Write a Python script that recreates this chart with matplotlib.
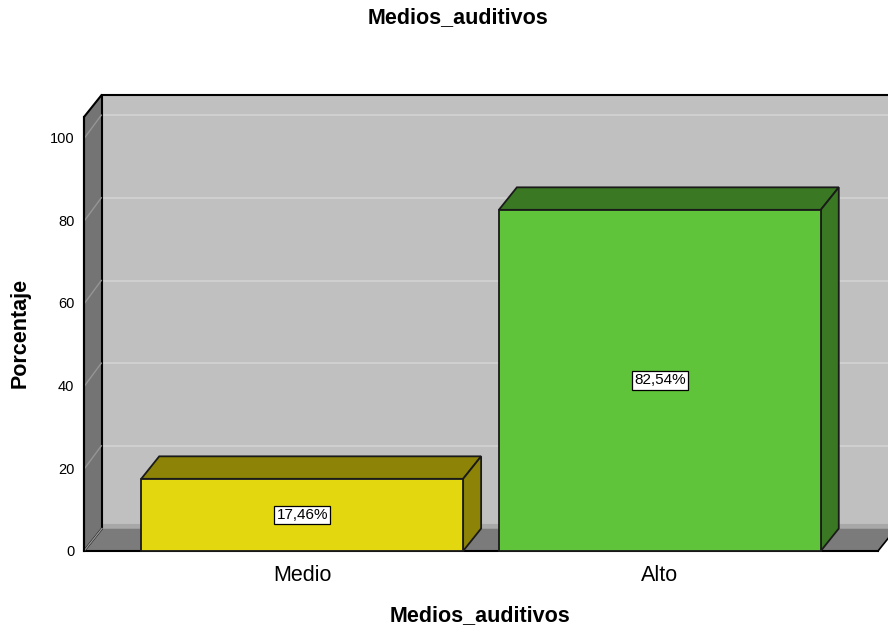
import matplotlib
matplotlib.use("Agg")
import matplotlib.pyplot as plt
from matplotlib.patches import Polygon

plt.rcParams['font.family'] = ['Liberation Sans', 'DejaVu Sans']

categories = ["Medio", "Alto"]
values = [17.46, 82.54]
labels = ["17,46%", "82,54%"]
yticks = [0, 20, 40, 60, 80, 100]
title = "Medios_auditivos"
xlabel = "Medios_auditivos"
ylabel = "Porcentaje"

front_colors = ["#E3D80F", "#5FC43A"]
shade_colors = ["#8C8307", "#3A7823"]

fig = plt.figure(figsize=(8.88, 6.35), dpi=100)
ax = fig.add_axes([84 / 888, 84 / 635, 794 / 888, 434 / 635])
x0, x1 = -0.61, 1.61
ymax = 105
ax.set_xlim(x0, x1)
ax.set_ylim(0, ymax)
for s in ax.spines.values():
    s.set_visible(False)
ax.patch.set_visible(False)

# depth offset (px -> data units)
dx = 18 / (794 / (x1 - x0))
dy = 22.5 / (434 / ymax)
bw = 0.9

# back wall
ax.add_patch(Polygon([(x0 + dx, dy), (x1 + dx, dy), (x1 + dx, ymax + dy), (x0 + dx, ymax + dy)],
                     closed=True, fc="#C0C0C0", ec="none", zorder=1, clip_on=False))
ax.plot([x0 + dx, x1 + dx], [ymax + dy, ymax + dy], color="black", lw=1.5, zorder=2, clip_on=False)
ax.plot([x0 + dx, x1 + dx], [dy + 0.5, dy + 0.5], color="#A8A8A8", lw=3, zorder=1.5, clip_on=False)
for t in yticks[1:]:
    ax.plot([x0 + dx, x1 + dx], [t + dy, t + dy], color="#CFCFCF", lw=1.5, zorder=1.6, clip_on=False)

# floor
ax.add_patch(Polygon([(x0, 0), (x1, 0), (x1 + dx, dy), (x0 + dx, dy)],
                     closed=True, fc="#7B7B7B", ec="none", zorder=2, clip_on=False))
ax.plot([x0, x1], [0, 0], color="black", lw=1.5, zorder=3, clip_on=False)
ax.plot([x1, x1 + dx], [0, dy], color="black", lw=1.2, zorder=3, clip_on=False)

# left wall
ax.add_patch(Polygon([(x0, 0), (x0 + dx, dy), (x0 + dx, ymax + dy), (x0, ymax)],
                     closed=True, fc="#747474", ec="black", lw=1.5, zorder=3, clip_on=False))
for t in yticks[1:]:
    ax.plot([x0 + 0.002, x0 + dx - 0.002], [t, t + dy], color="#959595", lw=1, zorder=3.5, clip_on=False)
ax.plot([x0, x0 + dx], [0, dy], color="#959595", lw=1, zorder=3.5, clip_on=False)
ax.plot([x0, x0], [0, ymax], color="black", lw=1.5, zorder=3.6, clip_on=False)

# bars
for i, (v, fc, sc, lab) in enumerate(zip(values, front_colors, shade_colors, labels)):
    l, r = i - bw / 2, i + bw / 2
    ax.add_patch(Polygon([(l, v), (r, v), (r + dx, v + dy), (l + dx, v + dy)],
                         closed=True, fc=sc, ec="#1a1a1a", lw=1.3, zorder=5, clip_on=False))
    ax.add_patch(Polygon([(r, 0), (r + dx, dy), (r + dx, v + dy), (r, v)],
                         closed=True, fc=sc, ec="#1a1a1a", lw=1.3, zorder=5, clip_on=False))
    ax.add_patch(Polygon([(l, 0), (r, 0), (r, v), (l, v)],
                         closed=True, fc=fc, ec="#1a1a1a", lw=1.3, zorder=6, clip_on=False))
    ax.text(i, v / 2, lab, ha="center", va="center", fontsize=11, zorder=8,
            bbox=dict(boxstyle="square,pad=0.15", fc="white", ec="black", lw=0.9))

ax.set_yticks(yticks)
ax.set_yticklabels([str(t) for t in yticks], fontsize=10.5)
ax.set_xticks(range(len(categories)))
ax.set_xticklabels(categories, fontsize=15.5)
ax.tick_params(axis="y", length=0, pad=7)
ax.tick_params(axis="x", length=0, pad=10)

fig.text(458 / 888, 1 - 18 / 635, title, ha="center", va="center", fontsize=15.5, fontweight="bold")
fig.text(480 / 888, 1 - 616 / 635, xlabel, ha="center", va="center", fontsize=15.5, fontweight="bold")
fig.text(20 / 888, 1 - 333 / 635, ylabel, ha="center", va="center", rotation=90, fontsize=15.5, fontweight="bold")

fig.savefig("out.png", dpi=100)
